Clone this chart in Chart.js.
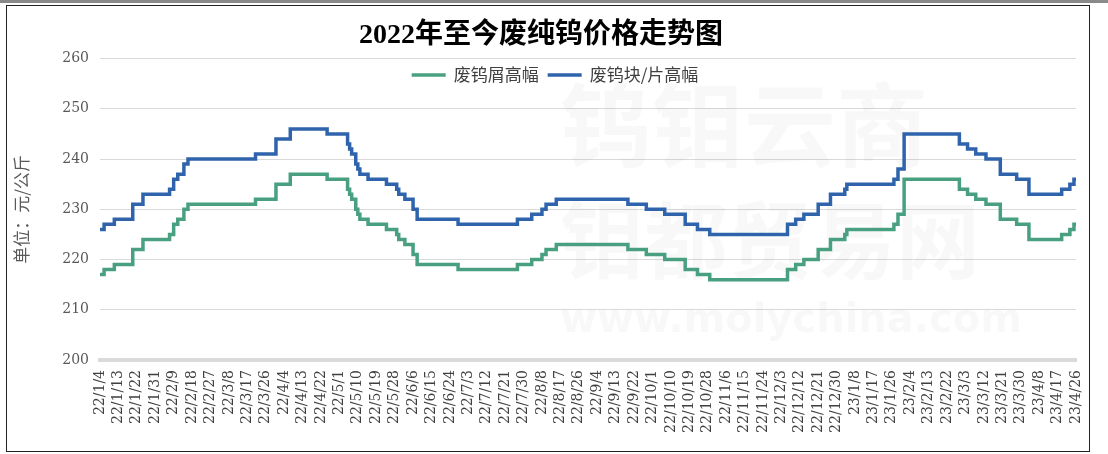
<!DOCTYPE html>
<html>
<head>
<meta charset="utf-8">
<script src="https://cdn.jsdelivr.net/npm/chart.js@4.4.0/dist/chart.umd.min.js"></script>
<style>
  html, body { margin: 0; padding: 0; background: #fff; }
  #wrap { position: relative; width: 1108px; height: 454px; overflow: hidden; }
  #topbar { position: absolute; left: 0; top: 0; width: 1108px; height: 3px; background: #8a8a8a; }
  #frame { position: absolute; left: 6px; top: 5px; width: 1084px; height: 447px; border: 1px solid #222; box-sizing: border-box; pointer-events: none; }
</style>
</head>
<body>
<div id="wrap">
  <canvas id="chartCanvas" width="1108" height="454"></canvas>
  <div id="topbar"></div>
  <div id="frame"></div>
</div>
<script>
// x axis: days counted from 22/1/4, one label every 9 days
const dateLabels = [
  '22/1/4', '22/1/13', '22/1/22', '22/1/31', '22/2/9', '22/2/18', '22/2/27', '22/3/8', '22/3/17',
  '22/3/26', '22/4/4', '22/4/13', '22/4/22', '22/5/1', '22/5/10', '22/5/19', '22/5/28', '22/6/6',
  '22/6/15', '22/6/24', '22/7/3', '22/7/12', '22/7/21', '22/7/30', '22/8/8', '22/8/17', '22/8/26',
  '22/9/4', '22/9/13', '22/9/22', '22/10/1', '22/10/10', '22/10/19', '22/10/28', '22/11/6', '22/11/15',
  '22/11/24', '22/12/3', '22/12/12', '22/12/21', '22/12/30', '23/1/8', '23/1/17', '23/1/26', '23/2/4',
  '23/2/13', '23/2/22', '23/3/3', '23/3/12', '23/3/21', '23/3/30', '23/4/8', '23/4/17', '23/4/26'
];
const lastDay = 477;

// day index where each price level starts
const stepDays = [
  0, 2, 7, 16, 21, 34, 36, 38, 41, 43,
  76, 86, 93, 111, 121, 122, 123, 125, 126, 127,
  131, 140, 145, 146, 149, 153, 155, 175, 204, 211,
  216, 218, 223, 258, 267, 276, 286, 292, 298, 336,
  340, 344, 351, 357, 364, 365, 388, 390, 393, 420,
  424, 428, 433, 440, 448, 454, 470, 474, 476, 477
];

// 废钨屑高幅
const scrapHigh = [
  217, 218, 219, 222, 224, 225, 227, 228, 230, 231,
  232, 235, 237, 236, 234, 233, 232, 230, 229, 228,
  227, 226, 225, 224, 223, 221, 219, 218, 219, 220,
  221, 222, 223, 222, 221, 220, 218, 217, 216, 218,
  219, 220, 222, 224, 225, 226, 227, 229, 236, 234,
  233, 232, 231, 228, 227, 224, 225, 226, 227, 227
];

// 废钨块/片高幅
const blockHigh = [
  226, 227, 228, 231, 233, 234, 236, 237, 239, 240,
  241, 244, 246, 245, 243, 242, 241, 239, 238, 237,
  236, 235, 234, 233, 232, 230, 228, 227, 228, 229,
  230, 231, 232, 231, 230, 229, 227, 226, 225, 227,
  228, 229, 231, 233, 234, 235, 236, 238, 245, 243,
  242, 241, 240, 237, 236, 233, 234, 235, 236, 236
];

const yTicks = [200, 210, 220, 230, 240, 250, 260];

function toPoints(values) {
  return stepDays.map((d, i) => ({ x: d, y: values[i] }));
}

// faint site watermark behind the lines
const watermark = {
  id: 'watermark',
  beforeDatasetsDraw(chart) {
    const ctx = chart.ctx;
    ctx.save();
    ctx.fillStyle = 'rgba(0,0,0,0.028)';
    ctx.textBaseline = 'middle';
    ctx.font = 'bold 92px "Noto Sans CJK SC"';
    ctx.fillText('钨钼云商', 560, 125);
    ctx.font = 'bold 84px "Noto Sans CJK SC"';
    ctx.fillText('钼都贸易网', 560, 240);
    ctx.font = 'bold 40px "DejaVu Sans"';
    ctx.fillText('www.molychina.com', 560, 322);
    ctx.restore();
  }
};

// legend sits inside the plot, just under the top gridline
const innerLegend = {
  id: 'innerLegend',
  afterDraw(chart) {
    const ctx = chart.ctx;
    const sets = chart.data.datasets;
    const lineLen = 34, gapText = 8, gapItem = 9, y = 75;
    ctx.save();
    ctx.font = '17px "Noto Sans CJK SC"';
    ctx.textBaseline = 'middle';
    let total = 0;
    sets.forEach((ds, i) => {
      total += lineLen + gapText + ctx.measureText(ds.label).width + (i ? gapItem : 0);
    });
    let x = 555 - total / 2;
    sets.forEach((ds) => {
      ctx.strokeStyle = ds.borderColor;
      ctx.lineWidth = ds.borderWidth;
      ctx.beginPath();
      ctx.moveTo(x, y);
      ctx.lineTo(x + lineLen, y);
      ctx.stroke();
      x += lineLen + gapText;
      ctx.fillStyle = '#404040';
      ctx.fillText(ds.label, x, y);
      x += ctx.measureText(ds.label).width + gapItem;
    });
    ctx.restore();
  }
};

const ctx = document.getElementById('chartCanvas').getContext('2d');
new Chart(ctx, {
  type: 'line',
  data: {
    datasets: [
      {
        label: '废钨屑高幅',
        data: toPoints(scrapHigh),
        borderColor: '#48a080',
        backgroundColor: '#48a080',
        borderWidth: 3.5,
        pointRadius: 0,
        stepped: true
      },
      {
        label: '废钨块/片高幅',
        data: toPoints(blockHigh),
        borderColor: '#2f64ad',
        backgroundColor: '#2f64ad',
        borderWidth: 3.5,
        pointRadius: 0,
        stepped: true
      }
    ]
  },
  options: {
    responsive: false,
    animation: false,
    layout: { padding: { left: 6, right: 32, top: 0, bottom: 0 } },
    plugins: {
      legend: { display: false },
      tooltip: { enabled: false },
      title: {
        display: true,
        text: '2022年至今废纯钨价格走势图',
        color: '#000',
        font: { family: '"Liberation Serif", "Noto Sans CJK SC"', size: 28, weight: 'bold' },
        padding: { top: 19, bottom: 6 }
      }
    },
    scales: {
      x: {
        type: 'linear',
        min: 0,
        max: lastDay,
        grid: { display: false, drawTicks: false },
        border: { display: true, color: '#dadada', width: 4 },
        ticks: {
          stepSize: 9,
          autoSkip: false,
          minRotation: 90,
          maxRotation: 90,
          padding: 10,
          color: '#404040',
          font: { family: '"DejaVu Serif"', size: 14 },
          callback: (v) => dateLabels[Math.round(v / 9)]
        },
        afterFit: (s) => { s.height = 94; }
      },
      y: {
        min: yTicks[0],
        max: yTicks[yTicks.length - 1],
        grid: { color: '#d9d9d9', drawTicks: false },
        border: { display: false },
        ticks: {
          stepSize: 10,
          padding: 11,
          color: '#595959',
          font: { family: '"DejaVu Serif"', size: 14 }
        },
        title: {
          display: true,
          text: '单位：元/公斤',
          color: '#595959',
          font: { family: '"Noto Sans CJK SC"', size: 17 },
          padding: { top: 5, bottom: 0 }
        },
        afterFit: (s) => { s.width = 94; }
      }
    }
  },
  plugins: [watermark, innerLegend]
});
</script>
</body>
</html>
